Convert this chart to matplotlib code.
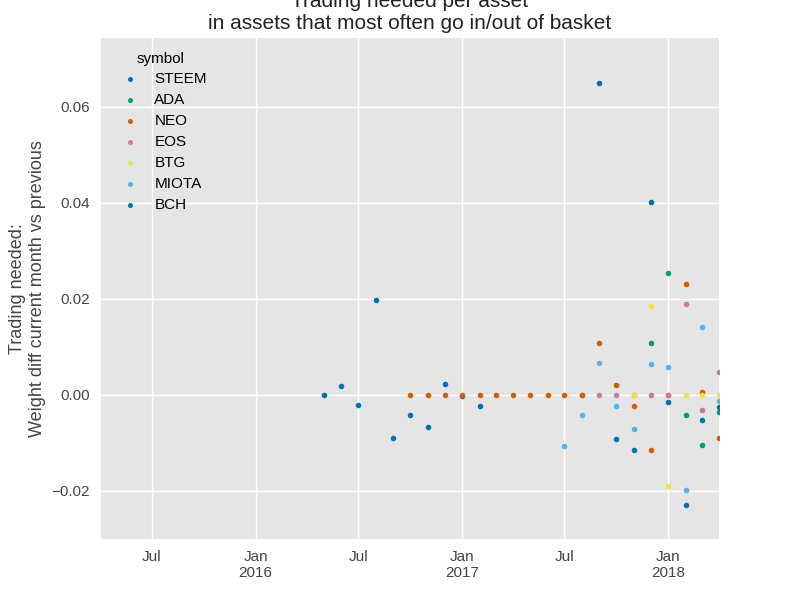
import matplotlib
matplotlib.use("Agg")
import matplotlib.pyplot as plt
import pandas as pd

plt.rcParams["font.family"] = ["Liberation Sans", "DejaVu Sans"]

symbols = ["STEEM", "ADA", "NEO", "EOS", "BTG", "MIOTA", "BCH"]
colors = ["#0072B2", "#009E73", "#D55E00", "#CC79A7", "#F0E442", "#56B4E9", "#0072B2"]

steem_dates = pd.date_range("2016-05-01", "2017-02-01", freq="MS").append(pd.DatetimeIndex(["2017-08-01"]))
steem_vals = [0.0, 0.0018, -0.0021, 0.0197, -0.009, -0.0043, -0.0068, 0.0023, -0.0003, -0.0023, 0.0]

ada_dates = pd.date_range("2017-12-01", "2018-04-01", freq="MS")
ada_vals = [0.0108, 0.0254, -0.0042, -0.0104, -0.0035]

neo_dates = pd.date_range("2016-10-01", "2018-04-01", freq="MS")
neo_vals = [0, 0, 0, 0, 0, 0, 0, 0, 0, 0, 0, 0.0108, 0.0021, -0.0023, -0.0115, 0.0, 0.0231, 0.0006, -0.009]

eos_dates = pd.date_range("2017-09-01", "2018-04-01", freq="MS")
eos_vals = [0.0, 0.0, 0.0, 0.0, 0.0, 0.019, -0.0031, 0.0048]

btg_dates = pd.date_range("2017-11-01", "2018-04-01", freq="MS")
btg_vals = [0.0, 0.0185, -0.019, 0.0, 0.0, 0.0]

miota_dates = pd.date_range("2017-07-01", "2018-04-01", freq="MS")
miota_vals = [-0.0106, -0.0042, 0.0067, -0.0023, -0.0071, 0.0065, 0.0058, -0.0198, 0.0142, -0.0012]

bch_dates = pd.date_range("2017-09-01", "2018-04-01", freq="MS")
bch_vals = [0.065, -0.0092, -0.0115, 0.0402, -0.0015, -0.0229, -0.0052, -0.0025]

series = [
    (steem_dates, steem_vals), (ada_dates, ada_vals), (neo_dates, neo_vals),
    (eos_dates, eos_vals), (btg_dates, btg_vals), (miota_dates, miota_vals),
    (bch_dates, bch_vals),
]

fig = plt.figure(figsize=(8, 6), dpi=100)
ax = fig.add_axes([0.126, 0.102, 0.773, 0.835])
ax.set_facecolor("#E5E5E5")
for s in ["top", "right", "bottom", "left"]:
    ax.spines[s].set_visible(False)
ax.grid(True, color="white", linewidth=1)
ax.set_axisbelow(True)

for name, col, (d, v) in zip(symbols, colors, series):
    ax.scatter(d, v, s=16, color=col, label=name, zorder=3, linewidths=0)

ax.set_xlim(pd.Timestamp("2015-04-02"), pd.Timestamp("2018-04-01"))
ax.set_ylim(-0.030, 0.0744)
ax.set_yticks([-0.02, 0.0, 0.02, 0.04, 0.06])
ax.set_yticklabels(["\u22120.02", "0.00", "0.02", "0.04", "0.06"])

ticks = pd.to_datetime(["2015-07-01", "2016-01-01", "2016-07-01", "2017-01-01", "2017-07-01", "2018-01-01"])
ax.set_xticks(ticks)
ax.set_xticklabels(["Jul", "Jan\n2016", "Jul", "Jan\n2017", "Jul", "Jan\n2018"])
ax.tick_params(length=0, labelsize=11, colors="#444444", pad=8)

ax.set_title("Trading needed per asset\nin assets that most often go in/out of basket",
             fontsize=15, color="#222222", pad=6)
ax.set_ylabel("Trading needed:\nWeight diff current month vs previous", fontsize=13,
              color="#444444", labelpad=4)

leg = ax.legend(title="symbol", loc="upper left", frameon=False, fontsize=11, markerscale=0.9,
                handletextpad=0.6, labelspacing=0.45)
leg.get_title().set_fontsize(11)

plt.savefig("out.png", dpi=100)
